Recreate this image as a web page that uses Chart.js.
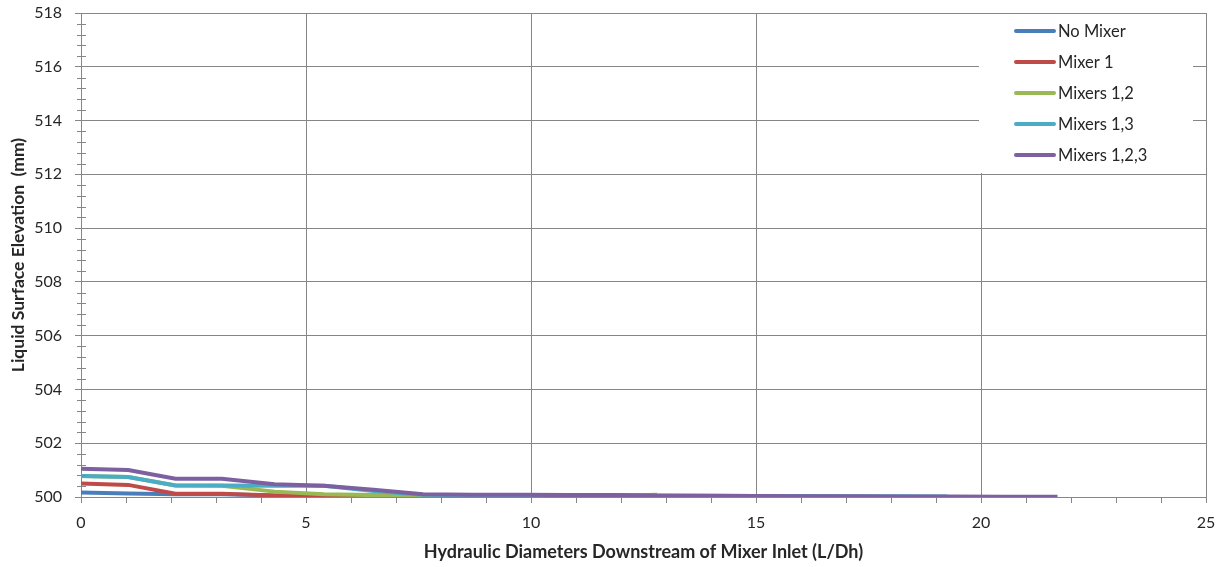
<!DOCTYPE html>
<html>
<head>
<meta charset="utf-8">
<script src="https://cdn.jsdelivr.net/npm/chart.js@4/dist/chart.umd.min.js"></script>
<style>
  html, body { margin: 0; padding: 0; background: #fff; }
  #wrap { width: 1227px; height: 567px; }
</style>
</head>
<body>
<div id="wrap"><canvas id="chart"></canvas></div>
<script>
// distance downstream (L/Dh)
const distance = [0, 1.05, 2.1, 3.13, 4.3, 5.4, 6.5, 7.6, 8.7, 9.8, 10.85,
  11.93, 12.8, 13.9, 15.0, 16.1, 17.1, 18.2, 19.25, 20.5, 21.7];

const seriesNames = ['No Mixer', 'Mixer 1', 'Mixers 1,2', 'Mixers 1,3', 'Mixers 1,2,3'];
const seriesColors = ['#4A7EBB', '#BE4B48', '#98B954', '#4BACC6', '#7D60A0'];

const noMixer = [500.17, 500.13, 500.1, 500.1, 500.06, 500.03, 500.02, 500.02, 500.02, 500.02, 500.02];
const mixer1 = [500.5, 500.45, 500.12, 500.12, 500.06, 500.03, 500.03, 500.03, 500.03, 500.03, 500.03, 500.02];
const mixers12 = [500.78, 500.74, 500.43, 500.42, 500.2, 500.1, 500.07, 500.06, 500.06, 500.05, 500.05, 500.05, 500.08];
const mixers13 = [500.78, 500.74, 500.43, 500.43, 500.42, 500.42, 500.22, 500.08, 500.07, 500.07, 500.06,
  500.06, 500.05, 500.05, 500.04, 500.04, 500.03, 500.03, 500.02];
const mixers123 = [501.05, 501.0, 500.68, 500.68, 500.47, 500.42, 500.27, 500.1, 500.08, 500.08, 500.07,
  500.07, 500.06, 500.05, 500.04, 500.03, 500.03, 500.02, 500.02, 500.01, 500.01];

const seriesValues = [noMixer, mixer1, mixers12, mixers13, mixers123];

const gridColor = '#868686';
const textColor = '#262626';

Chart.defaults.font.family = 'Lato';
Chart.defaults.color = textColor;

const datasets = seriesValues.map((vals, i) => ({
  label: seriesNames[i],
  data: vals.map((v, j) => ({ x: distance[j], y: v })),
  borderColor: seriesColors[i],
  backgroundColor: seriesColors[i],
  borderWidth: 4,
  pointRadius: 0,
  showLine: true,
  order: seriesValues.length - i
}));

// minor tick marks on both axes
const minorTicks = {
  id: 'minorTicks',
  afterDraw(chart) {
    const ctx = chart.ctx;
    const x = chart.scales.x, y = chart.scales.y;
    ctx.save();
    ctx.strokeStyle = gridColor;
    ctx.lineWidth = 1;
    ctx.beginPath();
    for (let v = 500.4; v < 518; v += 0.4) {
      if (Math.abs(v / 2 - Math.round(v / 2)) < 0.01) continue;
      const py = Math.round(y.getPixelForValue(v)) + 0.5;
      ctx.moveTo(x.left - 4, py);
      ctx.lineTo(x.left + 5, py);
    }
    for (let v = 1; v < 25; v++) {
      if (v % 5 === 0) continue;
      const px = Math.round(x.getPixelForValue(v)) + 0.5;
      ctx.moveTo(px, y.bottom);
      ctx.lineTo(px, y.bottom + 6);
    }
    ctx.stroke();
    ctx.restore();
  }
};

// legend box sitting inside the plot area
const boxLegend = {
  id: 'boxLegend',
  afterDraw(chart) {
    const ctx = chart.ctx;
    ctx.save();
    ctx.fillStyle = '#fff';
    ctx.fillRect(979, 14, 214, 159);
    ctx.font = '16.5px Lato';
    ctx.textBaseline = 'middle';
    ctx.fillStyle = textColor;
    chart.data.datasets.forEach((ds, i) => {
      const yy = 31 + i * 31;
      ctx.strokeStyle = ds.borderColor;
      ctx.lineWidth = 4;
      ctx.lineCap = 'round';
      ctx.beginPath();
      ctx.moveTo(1016, yy);
      ctx.lineTo(1054, yy);
      ctx.stroke();
      ctx.fillText(ds.label, 1058, yy + 1);
    });
    ctx.restore();
  }
};

new Chart(document.getElementById('chart'), {
  type: 'scatter',
  data: { datasets },
  plugins: [minorTicks, boxLegend],
  options: {
    responsive: true,
    maintainAspectRatio: false,
    animation: false,
    layout: { padding: { top: 13, right: 21, left: 0, bottom: 0 } },
    plugins: {
      legend: { display: false },
      tooltip: { enabled: false }
    },
    scales: {
      x: {
        type: 'linear',
        min: 0,
        max: 25,
        ticks: { stepSize: 5, padding: 10, font: { size: 16 }, color: textColor, maxRotation: 0 },
        grid: { color: gridColor, tickLength: 6, tickColor: gridColor },
        border: { color: gridColor },
        title: {
          display: true,
          text: 'Hydraulic Diameters Downstream of Mixer Inlet (L/Dh)',
          font: { size: 18, weight: 'bold' },
          color: textColor,
          padding: { top: 0, bottom: 4 }
        },
        afterFit(s) { s.height = 70; }
      },
      y: {
        type: 'linear',
        min: 500,
        max: 518,
        ticks: { stepSize: 2, padding: 13, font: { size: 16 }, color: textColor },
        grid: { color: gridColor, tickLength: 6, tickColor: gridColor },
        border: { color: gridColor },
        title: {
          display: true,
          text: 'Liquid Surface Elevation  (mm)',
          font: { size: 17.5, weight: 'bold' },
          color: textColor,
          padding: { top: 8, bottom: 0 }
        },
        afterFit(s) {
          s.width = 81;
          s.paddingTop = 0;
          s.paddingBottom = 0;
        }
      }
    }
  }
});
</script>
</body>
</html>
